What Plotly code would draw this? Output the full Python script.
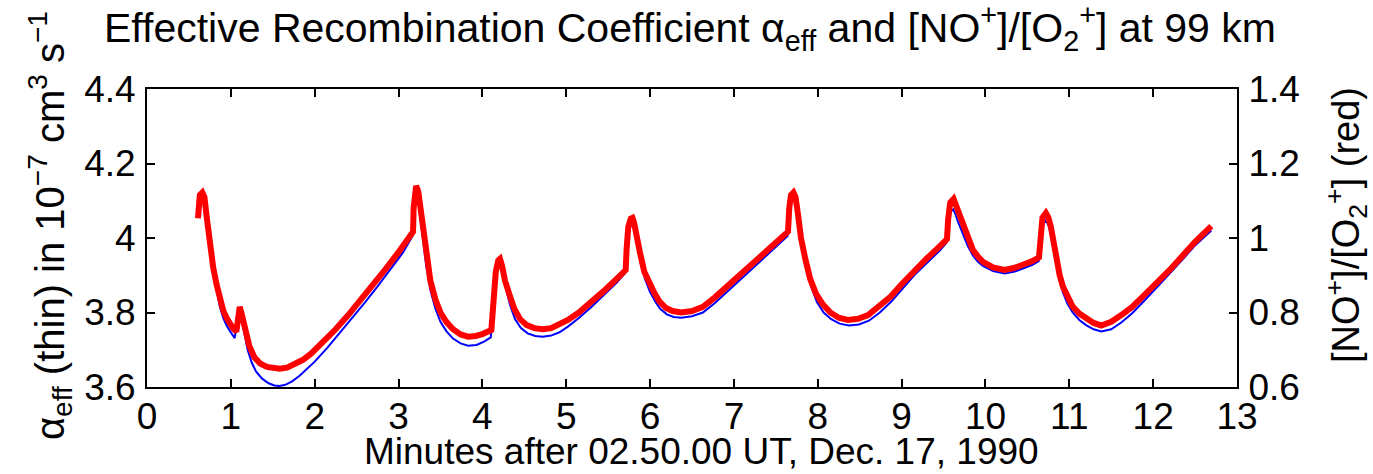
import plotly.graph_objects as go

# Thick red curve: [NO+]/[O2+] ratio (right axis)
red_x = [0.608, 0.615, 0.63, 0.66, 0.685, 0.71, 0.75, 0.79, 0.83, 0.87, 0.91, 0.95, 0.99, 1.03, 1.066,
         1.085, 1.106, 1.13, 1.17, 1.22, 1.28, 1.35, 1.43, 1.50, 1.583, 1.67, 1.76, 1.86, 1.96, 2.1, 2.25,
         2.4, 2.55, 2.7, 2.85, 3.0, 3.1, 3.173,
         3.18, 3.19, 3.21, 3.235, 3.26, 3.29, 3.33, 3.38, 3.44, 3.5, 3.57, 3.65, 3.74, 3.83, 3.92, 4.0, 4.107,
         4.13, 4.16, 4.19, 4.21, 4.235, 4.27, 4.32, 4.38, 4.45, 4.53, 4.62, 4.72, 4.82, 4.92, 5.02, 5.15,
         5.3, 5.45, 5.6, 5.709,
         5.72, 5.74, 5.77, 5.79, 5.81, 5.84, 5.88, 5.93, 5.99, 6.05, 6.11, 6.19, 6.27, 6.37, 6.5, 6.63,
         6.77, 6.9, 7.05, 7.2, 7.35, 7.5, 7.645,
         7.66, 7.68, 7.71, 7.735, 7.76, 7.8, 7.85, 7.91, 7.98, 8.06, 8.15, 8.25, 8.36, 8.48, 8.6, 8.73,
         8.87, 9.0, 9.15, 9.3, 9.45, 9.541,
         9.555, 9.58, 9.62, 9.645, 9.67, 9.73, 9.79, 9.85, 9.91, 9.97, 10.09, 10.229, 10.35, 10.47, 10.56, 10.638,
         10.65, 10.68, 10.72, 10.75, 10.78, 10.81, 10.845, 10.885, 10.925, 10.98, 11.04, 11.12, 11.2, 11.29,
         11.382, 11.5, 11.62, 11.75, 11.9, 12.05, 12.2, 12.35, 12.5, 12.694]
red_ratio = [1.053, 1.09, 1.115, 1.122, 1.11, 1.06, 0.98, 0.92, 0.875, 0.835, 0.805, 0.785, 0.766, 0.756, 0.749,
             0.79, 0.815, 0.795, 0.75, 0.71, 0.68, 0.663, 0.654, 0.65, 0.649, 0.652, 0.66, 0.673, 0.69, 0.72, 0.755,
             0.793, 0.833, 0.875, 0.918, 0.962, 0.993, 1.017,
             1.08, 1.125, 1.14, 1.125, 1.08, 1.02, 0.95, 0.885, 0.835, 0.8, 0.775, 0.755, 0.741, 0.735, 0.737, 0.742, 0.753,
             0.83, 0.91, 0.94, 0.944, 0.925, 0.885, 0.85, 0.81, 0.782, 0.766, 0.758, 0.755, 0.758, 0.767, 0.78, 0.8,
             0.828, 0.858, 0.89, 0.914,
             0.97, 1.03, 1.052, 1.054, 1.04, 1.0, 0.96, 0.91, 0.878, 0.853, 0.83, 0.812, 0.804, 0.8, 0.804, 0.815,
             0.84, 0.865, 0.895, 0.927, 0.957, 0.987, 1.017,
             1.08, 1.115, 1.122, 1.11, 1.07, 1.0, 0.945, 0.89, 0.85, 0.822, 0.8, 0.786, 0.78, 0.783, 0.793, 0.815,
             0.843, 0.876, 0.912, 0.945, 0.977, 0.997,
             1.05, 1.095, 1.105, 1.09, 1.07, 1.03, 0.995, 0.968, 0.95, 0.936, 0.921, 0.914, 0.92, 0.929, 0.938, 0.948,
             1.0, 1.055, 1.067, 1.055, 1.03, 0.99, 0.941, 0.9, 0.869, 0.84, 0.816, 0.797, 0.784, 0.772,
             0.765, 0.775, 0.793, 0.815, 0.848, 0.88, 0.915, 0.952, 0.99, 1.032]

# Thin blue curve: alpha_eff in 1e-7 cm^3 s^-1 (left axis)
blue_x = [0.62, 0.64, 0.665, 0.69, 0.715, 0.75, 0.79, 0.83, 0.87, 0.91, 0.95, 0.99, 1.046,
          1.08, 1.10, 1.125, 1.16, 1.20, 1.25, 1.30, 1.37, 1.45, 1.52, 1.58, 1.65, 1.73, 1.82, 1.92, 2.0,
          2.15, 2.3, 2.45, 2.6, 2.75, 2.9, 3.05, 3.165,
          3.18, 3.195, 3.212, 3.235, 3.26, 3.29, 3.33, 3.38, 3.44, 3.5, 3.57, 3.65, 3.74, 3.83, 3.93, 4.02, 4.1,
          4.13, 4.16, 4.19, 4.212, 4.24, 4.28, 4.33, 4.39, 4.46, 4.54, 4.63, 4.72, 4.82, 4.92, 5.02, 5.15,
          5.3, 5.45, 5.6, 5.7,
          5.72, 5.745, 5.775, 5.795, 5.82, 5.85, 5.89, 5.94, 6.0, 6.06, 6.12, 6.2, 6.28, 6.37, 6.5, 6.63,
          6.77, 6.9, 7.05, 7.2, 7.35, 7.5, 7.64,
          7.66, 7.685, 7.715, 7.74, 7.77, 7.81, 7.86, 7.92, 7.99, 8.07, 8.16, 8.26, 8.37, 8.49, 8.61, 8.74,
          8.88, 9.0, 9.15, 9.3, 9.45, 9.535,
          9.555, 9.58, 9.615, 9.64, 9.67, 9.73, 9.79, 9.85, 9.91, 9.97, 10.09, 10.229, 10.35, 10.47, 10.56, 10.635,
          10.65, 10.68, 10.72, 10.75, 10.78, 10.81, 10.845, 10.885, 10.925, 10.98, 11.04, 11.12, 11.2, 11.29,
          11.382, 11.5, 11.62, 11.75, 11.9, 12.05, 12.2, 12.35, 12.5, 12.694]
blue_alpha = [4.06, 4.095, 4.108, 4.095, 4.045, 3.97, 3.905, 3.855, 3.815, 3.785, 3.765, 3.75, 3.731,
              3.78, 3.805, 3.785, 3.74, 3.70, 3.665, 3.642, 3.623, 3.61, 3.604, 3.603, 3.606, 3.615, 3.63, 3.65, 3.668,
              3.705, 3.745, 3.785, 3.827, 3.87, 3.915, 3.96, 4.005,
              4.06, 4.105, 4.118, 4.1, 4.055, 3.995, 3.925, 3.86, 3.81, 3.775, 3.75, 3.73, 3.717, 3.711, 3.713, 3.722, 3.733,
              3.81, 3.89, 3.928, 3.935, 3.91, 3.865, 3.82, 3.782, 3.758, 3.744, 3.737, 3.735, 3.738, 3.747, 3.762, 3.785,
              3.815, 3.847, 3.88, 3.905,
              3.955, 4.015, 4.037, 4.036, 4.015, 3.975, 3.935, 3.89, 3.855, 3.83, 3.81, 3.795, 3.788, 3.786, 3.79, 3.8,
              3.825, 3.852, 3.883, 3.915, 3.946, 3.976, 4.005,
              4.065, 4.1, 4.107, 4.09, 4.05, 3.985, 3.925, 3.87, 3.828, 3.8, 3.782, 3.77, 3.765, 3.768, 3.778, 3.8,
              3.83, 3.862, 3.9, 3.933, 3.965, 3.987,
              4.03, 4.07, 4.077, 4.065, 4.045, 4.01, 3.978, 3.953, 3.936, 3.925, 3.911, 3.905, 3.91, 3.92, 3.928, 3.938,
              3.985, 4.035, 4.048, 4.035, 4.01, 3.97, 3.925, 3.885, 3.853, 3.823, 3.8, 3.78, 3.766, 3.755,
              3.749, 3.755, 3.773, 3.798, 3.833, 3.868, 3.905, 3.942, 3.98, 4.02]

x_ticks = list(range(0, 14))
left_ticks = [3.6, 3.8, 4.0, 4.2, 4.4]
right_ticks = [0.6, 0.8, 1.0, 1.2, 1.4]

title_text = ("Effective Recombination Coefficient α<sub>eff</sub> and "
              "[NO<sup>+</sup>]/[O<sub>2</sub><sup>+</sup>] at 99 km")
xlabel = "Minutes after 02.50.00 UT, Dec. 17, 1990"
ylabel_left = "α<sub>eff</sub> (thin) in 10<sup>−7</sup> cm<sup>3</sup> s<sup>−1</sup>"
ylabel_right = "[NO<sup>+</sup>]/[O<sub>2</sub><sup>+</sup>] (red)"

FONT = "Liberation Sans, Arial, sans-serif"

fig = go.Figure()
fig.add_trace(go.Scatter(x=blue_x, y=blue_alpha, mode="lines",
                         line=dict(color="#0000FF", width=2), yaxis="y", showlegend=False))
fig.add_trace(go.Scatter(x=red_x, y=red_ratio, mode="lines",
                         line=dict(color="#FF0000", width=6), yaxis="y2", showlegend=False))

axis_common = dict(showgrid=False, zeroline=False, showline=True, linecolor="black", linewidth=2,
                   ticks="inside", ticklen=8, tickwidth=1.5, tickcolor="black")

fig.update_layout(
    width=1373, height=474,
    margin=dict(l=147, r=136, t=89, b=87),
    paper_bgcolor="white", plot_bgcolor="white",
    font=dict(family=FONT, color="black"),
    xaxis=dict(range=[0, 13], tickvals=x_ticks, mirror="ticks", ticklabelstandoff=-4,
               tickfont=dict(family=FONT, size=37, color="black"), **axis_common),
    yaxis=dict(range=[3.6, 4.4], tickvals=left_ticks, tickformat="~g", mirror=True,
               ticklabelstandoff=2, tickfont=dict(family=FONT, size=37, color="black"), **axis_common),
    yaxis2=dict(range=[0.6, 1.4], tickvals=right_ticks, tickformat="~g", overlaying="y", side="right",
                ticklabelstandoff=2, tickfont=dict(family=FONT, size=37, color="black"), **axis_common),
    annotations=[
        dict(text=title_text, xref="paper", yref="paper", x=0.498, y=(387 - 28) / 298,
             xanchor="center", yanchor="middle", showarrow=False,
             font=dict(family=FONT, size=41, color="black")),
        dict(text=xlabel, xref="paper", yref="paper", x=0.509, y=(387 - 451) / 298,
             xanchor="center", yanchor="middle", showarrow=False,
             font=dict(family=FONT, size=37, color="black")),
        dict(text=ylabel_left, xref="paper", yref="paper", x=(50 - 147) / 1090, y=(387 - 226) / 298,
             xanchor="center", yanchor="middle", showarrow=False, textangle=-90,
             font=dict(family=FONT, size=40, color="black")),
        dict(text=ylabel_right, xref="paper", yref="paper", x=(1346 - 147) / 1090, y=(387 - 225) / 298,
             xanchor="center", yanchor="middle", showarrow=False, textangle=-90,
             font=dict(family=FONT, size=38, color="black")),
    ],
)

fig.write_html("out.html")
